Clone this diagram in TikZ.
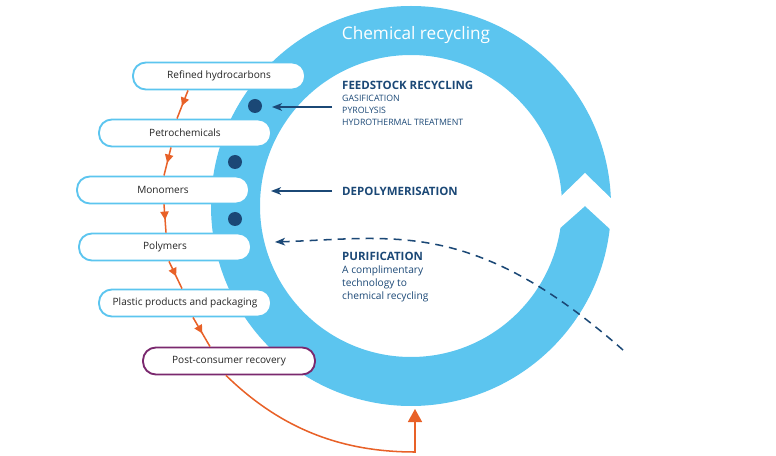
\documentclass[tikz,border=0pt]{standalone}
\usepackage{fontspec}
\setmainfont{Open Sans}
\usepackage{xcolor}
\usetikzlibrary{calc, arrows.meta, positioning, decorations.markings}
\definecolor{ringblue}{RGB}{92,197,239}
\definecolor{deepblue}{RGB}{27,72,118}
\definecolor{flame}{RGB}{232,97,40}
\definecolor{plum}{RGB}{122,40,110}
\newcommand{\stagefont}{\fontsize{8.6}{10}\selectfont}
\newcommand{\headfont}{\fontsize{9.8}{11}\selectfont\bfseries}

\begin{document}
\begin{tikzpicture}[
  x=0.03cm, y=-0.03cm,
  >={Stealth[length=3mm, width=2.3mm, inset=0.8mm]},
  stage/.style={draw=ringblue, line width=1.6pt, fill=white, rounded corners=11pt,
                minimum width=5.16cm, minimum height=0.81cm, font=\stagefont, text=black!85},
  flow/.style={draw=flame, line width=1.3pt, postaction={decorate},
               decoration={markings, mark=at position 0.55 with {\arrow{Triangle[length=2.5mm, width=2.5mm]}}}},
  head/.style={anchor=west, inner sep=0pt, font=\headfont, text=deepblue},
  sub/.style={anchor=north west, inner sep=0pt, align=left, text=deepblue},
  dot/.style={circle, fill=deepblue, inner sep=0pt, minimum size=0.42cm}
]
\useasboundingbox (0,0) rectangle (776,456);
% the ring with its chevron
\fill[ringblue, even odd rule] (411,206) circle (200) (411,206) circle (151);
\fill[white] (552,205) -- (585,173) -- (623,210) -- (623,241) -- (585,206) -- (550,237) -- cycle;
\node[text=white, font=\fontsize{14.7}{17}\selectfont] (title) at (416,35) {Chemical recycling};

% value chain
\node[stage] (refined) at (219,76) {Refined hydrocarbons};
\node[stage] (petro) at (185,133) {Petrochemicals};
\node[stage] (mono) at (163,190) {Monomers};
\node[stage] (poly) at (165,247) {Polymers};
\node[stage] (plastic) at (185,303) {Plastic products and packaging};
\node[stage, draw=plum] (post) at (229,361) {Post-consumer recovery};

\draw[flow] ($(refined.south)+(-31,0)$) -- ($(petro.north)+(-8,0)$);
\draw[flow] ($(petro.south)+(-14,0)$) -- ($(mono.north)+(1,0)$);
\draw[flow] ($(mono.south)+(1,0)$) -- ($(poly.north)+(1,0)$);
\draw[flow] ($(poly.south)+(4,0)$) -- ($(plastic.north)+(-3,0)$);
\draw[flow] ($(plastic.south)+(8,0)$) -- ($(post.north)+(-19,0)$);
\coordinate (ringbot) at (415,409);
\draw[flame, line width=1.3pt, -{Triangle[length=3.9mm, width=4.2mm]}]
  ($(post.south)+(-3,0)$) .. controls (280,428) and (340,452) .. (415,452) -- (ringbot);

% dots on the ring
\node[dot] (d1) at (255,106) {};
\node[dot] (d2) at (235,162) {};
\node[dot] (d3) at (235,219) {};

% routes
\node[head] (feed) at (342,85) {FEEDSTOCK RECYCLING};
\node[sub, font=\fontsize{7.5}{10.2}\selectfont] (feedsub) at (342,95)
  {GASIFICATION\\PYROLYSIS\\HYDROTHERMAL TREATMENT};
\node[head] (depoly) at (342,191) {DEPOLYMERISATION};
\node[head] (puri) at (342,256) {PURIFICATION};
\node[sub, font=\fontsize{8.7}{10.7}\selectfont] (purisub) at (342,266)
  {A complimentary\\technology to\\chemical recycling};

\coordinate (feedtail) at (332,107);
\coordinate (feedtip) at (272,107);
\coordinate (depotip) at (271,191);
\coordinate (puritail) at (623,350);
\coordinate (puritip) at (275,242);
\draw[->, deepblue, line width=1.3pt] (feedtail) -- (feedtip);
\draw[->, deepblue, line width=1.3pt] ($(depoly.west)+(-10,0)$) -- (depotip);
\draw[->, deepblue, line width=1.3pt, dash pattern=on 2.4mm off 1.8mm]
  (puritail) .. controls (473,218) and (395,238) .. (puritip);
\end{tikzpicture}
\end{document}
